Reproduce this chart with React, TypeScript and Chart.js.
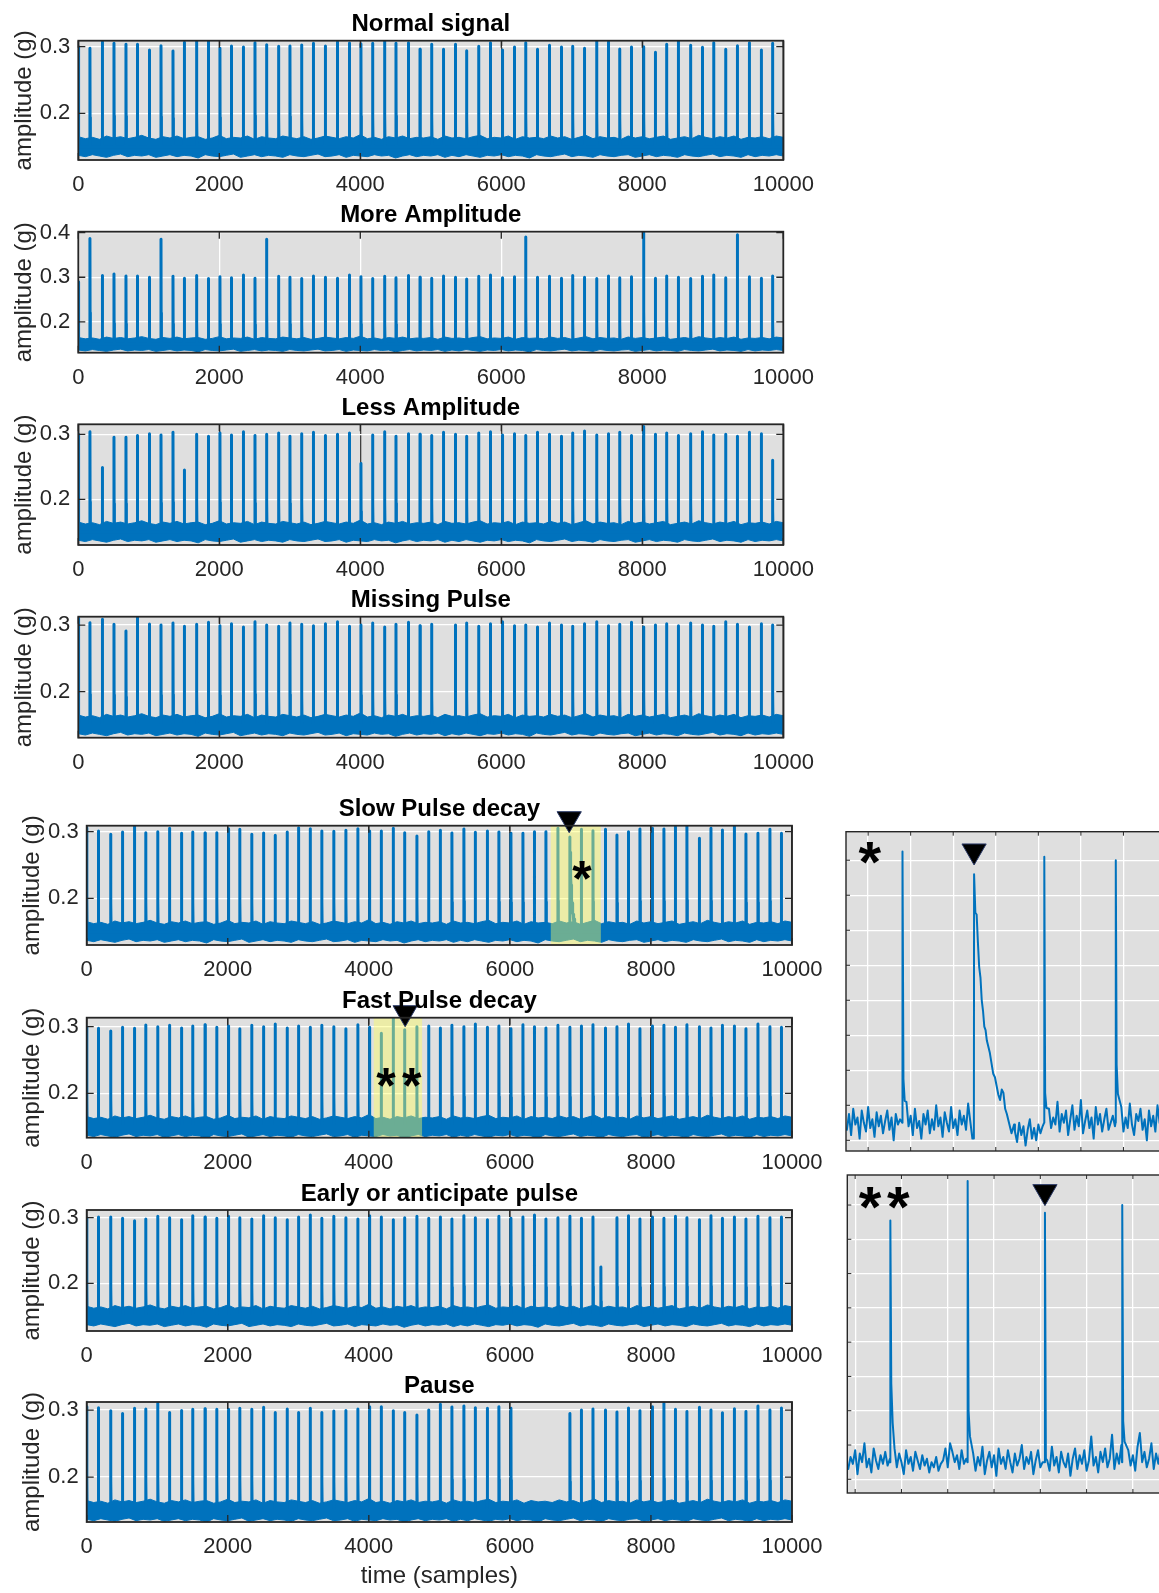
import React, { useEffect, useRef } from 'react';
import { Chart, registerables } from 'chart.js';

Chart.register(...registerables);

// ================= DATA =================
const xTickValues = [0, 2000, 4000, 6000, 8000, 10000];
const xTickLabels = ['0', '2000', '4000', '6000', '8000', '10000'];
const yTickValues = [0.2, 0.3];
const yTickLabels = ['0.2', '0.3'];
const yTickValuesMore = [0.2, 0.3, 0.4];
const yTickLabelsMore = ['0.2', '0.3', '0.4'];
const plotTitles = ['Normal signal', 'More Amplitude', 'Less Amplitude', 'Missing Pulse', 'Slow Pulse decay', 'Fast Pulse decay', 'Early or anticipate pulse', 'Pause'];
const yAxisLabel = 'amplitude (g)';
const xAxisLabel = 'time (samples)';

// pulse (beat) times in samples
const beatTimes = [0, 165, 340, 506, 676, 837, 1007, 1173, 1343, 1503, 1678, 1844, 2009, 2170, 2340, 2506, 2671, 2841, 3002, 3168, 3333, 3503, 3674, 3844, 4009, 4175, 4345, 4506, 4681, 4847, 5012, 5178, 5348, 5508, 5679, 5844, 6015, 6185, 6346, 6511, 6681, 6851, 7012, 7178, 7353, 7518, 7679, 7844, 8019, 8184, 8345, 8510, 8685, 8851, 9011, 9181, 9347, 9517, 9687, 9848];
const earlyTimes = [0, 165, 340, 506, 676, 837, 1007, 1173, 1343, 1503, 1678, 1844, 2009, 2170, 2340, 2506, 2671, 2841, 3002, 3168, 3333, 3503, 3674, 3844, 4009, 4175, 4345, 4506, 4681, 4847, 5012, 5178, 5348, 5508, 5679, 5844, 6015, 6185, 6346, 6511, 6681, 6851, 7012, 7178, 7290, 7518, 7679, 7844, 8019, 8184, 8345, 8510, 8685, 8851, 9011, 9181, 9347, 9517, 9687, 9848];

const normalPeaks = [0.300, 0.2975, 0.3075, 0.305, 0.3035, 0.3035, 0.295, 0.3015, 0.2935, 0.3065, 0.3085, 0.309, 0.2975, 0.301, 0.2995, 0.306, 0.303, 0.3005, 0.301, 0.3025, 0.305, 0.301, 0.3075, 0.3055, 0.304, 0.305, 0.3105, 0.305, 0.306, 0.296, 0.3035, 0.296, 0.3035, 0.294, 0.3005, 0.306, 0.295, 0.2995, 0.306, 0.296, 0.302, 0.2995, 0.3005, 0.2975, 0.3085, 0.3075, 0.2965, 0.2995, 0.300, 0.2915, 0.3035, 0.309, 0.302, 0.299, 0.306, 0.296, 0.3015, 0.306, 0.295, 0.305];
const moreAmpPeaks = [0.290, 0.387, 0.3037, 0.3074, 0.303, 0.303, 0.300, 0.385, 0.302, 0.298, 0.304, 0.297, 0.301, 0.299, 0.305, 0.298, 0.385, 0.302, 0.300, 0.297, 0.303, 0.300, 0.298, 0.305, 0.301, 0.297, 0.302, 0.299, 0.304, 0.300, 0.298, 0.303, 0.300, 0.296, 0.302, 0.305, 0.299, 0.301, 0.390, 0.300, 0.302, 0.298, 0.304, 0.300, 0.297, 0.303, 0.299, 0.301, 0.400, 0.298, 0.303, 0.300, 0.297, 0.302, 0.305, 0.299, 0.395, 0.301, 0.298, 0.303];
const lessAmpPeaks = [0.300, 0.304, 0.249, 0.2954, 0.2954, 0.298, 0.301, 0.299, 0.303, 0.245, 0.300, 0.297, 0.302, 0.299, 0.304, 0.298, 0.300, 0.302, 0.297, 0.301, 0.303, 0.298, 0.300, 0.302, 0.255, 0.299, 0.304, 0.297, 0.301, 0.300, 0.298, 0.303, 0.300, 0.297, 0.302, 0.304, 0.299, 0.301, 0.298, 0.303, 0.300, 0.297, 0.302, 0.305, 0.299, 0.301, 0.303, 0.298, 0.312, 0.300, 0.302, 0.298, 0.301, 0.304, 0.299, 0.300, 0.297, 0.303, 0.301, 0.260];
const missingPeaks = [0.310, 0.3035, 0.3085, 0.301, 0.291, 0.3125, 0.3015, 0.300, 0.303, 0.298, 0.301, 0.304, 0.299, 0.302, 0.297, 0.305, 0.300, 0.298, 0.303, 0.301, 0.299, 0.302, 0.305, 0.298, 0.300, 0.303, 0.297, 0.301, 0.304, 0.299, 0.301, null, 0.300, 0.303, 0.298, 0.302, 0.305, 0.299, 0.300, 0.297, 0.303, 0.300, 0.298, 0.302, 0.305, 0.299, 0.301, 0.304, 0.297, 0.300, 0.302, 0.299, 0.303, 0.300, 0.298, 0.305, 0.301, 0.297, 0.302, 0.300];
const slowPeaks = [0.306, 0.301, 0.296, 0.2995, 0.3095, 0.2985, 0.300, 0.305, 0.2975, 0.2995, 0.298, 0.2985, 0.3045, 0.3035, 0.296, 0.298, 0.2945, 0.2995, 0.306, 0.3045, 0.301, 0.3005, 0.302, 0.3045, 0.301, 0.301, 0.305, 0.2985, 0.2935, 0.300, 0.302, 0.298, 0.304, 0.299, 0.301, 0.2995, 0.2975, 0.2975, 0.300, 0.300, 0.305, null, 0.3035, 0.3015, 0.3035, 0.295, 0.300, 0.304, 0.305, 0.304, 0.3075, 0.3085, 0.290, 0.305, 0.3025, 0.3085, 0.2965, 0.2975, 0.3035, 0.2975];
const fastPeaks = [0.300, 0.2975, 0.2935, 0.299, 0.2975, 0.3025, 0.300, 0.302, 0.298, 0.301, 0.303, 0.299, 0.301, 0.297, 0.302, 0.300, 0.304, 0.298, 0.301, 0.299, 0.302, 0.300, 0.297, 0.303, 0.299, 0.290, 0.314, 0.2955, 0.300, 0.301, 0.298, 0.302, 0.300, 0.304, 0.299, 0.301, 0.297, 0.303, 0.300, 0.298, 0.302, 0.299, 0.301, 0.303, 0.298, 0.300, 0.304, 0.297, 0.301, 0.302, 0.299, 0.303, 0.300, 0.298, 0.302, 0.301, 0.297, 0.304, 0.300, 0.299];
const earlyPeaks = [0.300, 0.301, 0.301, 0.299, 0.2955, 0.298, 0.302, 0.300, 0.297, 0.303, 0.301, 0.299, 0.302, 0.300, 0.298, 0.303, 0.300, 0.297, 0.301, 0.304, 0.299, 0.302, 0.300, 0.298, 0.303, 0.301, 0.297, 0.300, 0.302, 0.299, 0.301, 0.298, 0.303, 0.300, 0.297, 0.302, 0.299, 0.301, 0.304, 0.298, 0.300, 0.302, 0.299, 0.301, 0.225, 0.300, 0.303, 0.298, 0.301, 0.299, 0.302, 0.300, 0.297, 0.303, 0.299, 0.301, 0.298, 0.302, 0.300, 0.301];
const pausePeaks = [0.305, 0.3035, 0.299, 0.295, 0.3025, 0.3015, 0.310, 0.2965, 0.2995, 0.301, 0.302, 0.301, 0.301, 0.3025, 0.301, 0.304, 0.2965, 0.3015, 0.2965, 0.3025, 0.2965, 0.2985, 0.2995, 0.3015, 0.305, 0.305, 0.299, 0.2965, 0.2925, 0.300, 0.3085, 0.3045, 0.306, 0.3035, 0.3025, 0.305, 0.3025, null, null, null, null, 0.295, 0.300, 0.3015, 0.300, 0.297, 0.303, 0.299, 0.305, 0.310, 0.301, 0.298, 0.304, 0.300, 0.296, 0.302, 0.298, 0.306, 0.300, 0.303];

// baseline level and estimated envelope of the dense noise band (one value every 100 samples)
const baselineLevel = 0.15;
const noiseEnvelopeStep = 100;
const noiseUpper = [
  0.165, 0.162, 0.164, 0.161, 0.166, 0.163, 0.165, 0.162, 0.164, 0.167,
  0.163, 0.161, 0.165, 0.163, 0.166, 0.162, 0.164, 0.165, 0.161, 0.163,
  0.167, 0.162, 0.164, 0.163, 0.166, 0.161, 0.165, 0.163, 0.162, 0.166,
  0.164, 0.162, 0.165, 0.161, 0.163, 0.166, 0.164, 0.162, 0.165, 0.163,
  0.168, 0.162, 0.164, 0.161, 0.165, 0.163, 0.166, 0.162, 0.164, 0.163,
  0.165, 0.161, 0.166, 0.163, 0.164, 0.162, 0.165, 0.167, 0.162, 0.164,
  0.163, 0.166, 0.161, 0.165, 0.163, 0.164, 0.162, 0.166, 0.163, 0.165,
  0.161, 0.164, 0.167, 0.162, 0.165, 0.163, 0.164, 0.161, 0.166, 0.163,
  0.165, 0.162, 0.164, 0.166, 0.161, 0.163, 0.165, 0.162, 0.167, 0.164,
  0.162, 0.165, 0.163, 0.166, 0.161, 0.164, 0.163, 0.165, 0.162, 0.166, 0.164,
];
const noiseLower = [
  0.137, 0.135, 0.138, 0.136, 0.134, 0.137, 0.139, 0.135, 0.137, 0.136,
  0.138, 0.134, 0.136, 0.138, 0.135, 0.137, 0.136, 0.133, 0.138, 0.136,
  0.135, 0.137, 0.139, 0.134, 0.136, 0.138, 0.135, 0.137, 0.136, 0.134,
  0.138, 0.136, 0.135, 0.137, 0.139, 0.135, 0.136, 0.138, 0.134, 0.137,
  0.136, 0.135, 0.138, 0.136, 0.137, 0.133, 0.136, 0.138, 0.135, 0.137,
  0.136, 0.138, 0.134, 0.137, 0.135, 0.138, 0.136, 0.134, 0.137, 0.136,
  0.138, 0.135, 0.137, 0.136, 0.133, 0.138, 0.136, 0.135, 0.137, 0.139,
  0.135, 0.137, 0.136, 0.134, 0.138, 0.136, 0.135, 0.137, 0.138, 0.134,
  0.136, 0.138, 0.135, 0.137, 0.136, 0.134, 0.138, 0.136, 0.135, 0.137,
  0.139, 0.135, 0.137, 0.136, 0.134, 0.138, 0.135, 0.137, 0.136, 0.138, 0.136,
];

// slow decay of the marked pulse
const slowDecayTimes = [6849, 6852, 6855, 6858, 6861, 6864, 6867, 6870, 6873, 6876, 6879, 6883, 6886, 6890, 6894, 6898, 6902, 6906, 6910, 6914, 6918, 6922, 6926, 6931, 6937, 6943];
const slowDecayValues = [0.292, 0.270, 0.269, 0.253, 0.239, 0.233, 0.220, 0.214, 0.205, 0.203, 0.197, 0.193, 0.190, 0.184, 0.178, 0.176, 0.171, 0.166, 0.163, 0.169, 0.167, 0.158, 0.155, 0.150, 0.144, 0.149];

// inset (zoom) data
const insetNoiseStep = 5;
const insetSlowRange = [6548, 7300];
const insetSlowYRange = [0.1339, 0.3163];
const insetSlowTicksX = [6600, 6700, 6800, 6900, 7000, 7100, 7200, 7300];
const insetSlowNoiseStart = 6550;
const insetSlowNoise = [
  0.146, 0.155, 0.143, 0.158, 0.149, 0.153, 0.141, 0.157, 0.150, 0.145, 0.159, 0.147, 0.152, 0.142, 0.156, 0.148, 0.154, 0.144, 0.151, 0.157, 0.146, 0.153, 0.140, 0.155, 0.149, 0.152,
  0.150, 0.156, 0.162, 0.148, 0.154, 0.143, 0.158, 0.147, 0.151, 0.141, 0.155, 0.149, 0.157, 0.144, 0.152, 0.146, 0.160, 0.148, 0.153, 0.142, 0.156, 0.150, 0.145, 0.159, 0.147, 0.152, 0.143, 0.157, 0.149, 0.154, 0.146, 0.161, 0.151,
  0.141,
  null, null, null, null, null, null, null, null, null, null, null, null, null, null, null, null, null, null, null,
  0.145, 0.139, 0.150, 0.143, 0.148, 0.137, 0.146, 0.152, 0.141, 0.147, 0.140, 0.149, 0.144, 0.148,
  0.151, 0.154, 0.158, 0.147, 0.153, 0.149, 0.162, 0.145, 0.155, 0.150, 0.157, 0.143, 0.152, 0.160, 0.146, 0.154, 0.148, 0.163, 0.144, 0.151, 0.157, 0.147, 0.153, 0.141, 0.159, 0.149, 0.155, 0.145, 0.152, 0.158, 0.146, 0.150, 0.154,
  0.148, 0.156, 0.150, 0.159, 0.145, 0.153, 0.147, 0.161, 0.149, 0.143, 0.155, 0.151, 0.158, 0.146, 0.152, 0.140, 0.157, 0.148, 0.154, 0.145, 0.160, 0.150, 0.147, 0.155, 0.149,
];
const insetSlowPulseTimes = [6681, 7014, 7182];
const insetSlowPulsePeaks = [0.305, 0.302, 0.300];
const insetSlowPulseTails = [0.175, 0.167, 0.183];

const insetFastRange = [4083, 4770];
const insetFastYRange = [0.132, 0.3175];
const insetFastTicksX = [4100, 4200, 4300, 4400, 4500, 4600, 4700];
const insetFastNoiseStart = 4085;
const insetFastNoise = [
  0.146, 0.153, 0.149, 0.157, 0.143, 0.155, 0.150, 0.161, 0.147, 0.152,
  0.144, 0.158, 0.151, 0.146, 0.154, 0.149, 0.156, 0.148, 0.152, 0.150,
  0.158, 0.147, 0.155, 0.150, 0.143, 0.157, 0.149, 0.153, 0.145, 0.156,
  0.151, 0.146, 0.154, 0.148, 0.152, 0.144, 0.150, 0.147, 0.153, 0.145,
  0.149, 0.151, 0.158, 0.147, 0.161, 0.156, 0.150, 0.154, 0.146, 0.157,
  0.149, 0.152, 0.150, 0.150, 0.155, 0.145, 0.153, 0.148, 0.159, 0.143,
  0.151, 0.156, 0.147, 0.154, 0.142, 0.158, 0.149, 0.153, 0.146, 0.157,
  0.150, 0.144, 0.155, 0.148, 0.152, 0.160, 0.146, 0.153, 0.149, 0.156,
  0.143, 0.151, 0.157, 0.147, 0.150, 0.150, 0.154, 0.145, 0.159, 0.148,
  0.153, 0.144, 0.156, 0.150, 0.147, 0.155, 0.142, 0.152, 0.158, 0.146,
  0.154, 0.149, 0.157, 0.145, 0.151, 0.165, 0.148, 0.153, 0.144, 0.156,
  0.150, 0.158, 0.147, 0.152, 0.166, 0.146, 0.155, 0.149, 0.160, 0.143,
  0.153, 0.157, 0.148, 0.154, 0.145, 0.159, 0.167, 0.150, 0.156, 0.147,
  0.152, 0.161, 0.146, 0.155, 0.149, 0.158, 0.144, 0.153,
];
const insetFastPulseTimes = [4176, 4343, 4510, 4677];
const insetFastPulsePeaks = [0.291, 0.314, 0.2955, 0.300];
const insetFastPulseTails = [0.196, 0.180, 0.152, 0.174];
const insetTicksY = [0.14, 0.16, 0.18, 0.20, 0.22, 0.24, 0.26, 0.28, 0.30];

// annotation markers (data coordinates)
const slowMarker = [{ x: 6841, y: 0.3195 }];
const fastMarker = [{ x: 4515, y: 0.321 }];
const insetSlowMarker = [{ x: 6849, y: 0.3053 }];
const insetFastMarker = [{ x: 4510, y: 0.3078 }];
const slowStars = [{ x: 7021, y: 0.24 }];
const fastStars = [{ x: 4245, y: 0.2215 }, { x: 4610, y: 0.2215 }];
const insetSlowStars = [{ x: 6604, y: 0.304 }];
const insetFastStars = [{ x: 4132, y: 0.3039 }, { x: 4193, y: 0.3039 }];
const slowHighlight = [6580, 7290];
const fastHighlight = [4070, 4755];

// ================= BUILDERS =================
type P = { x: number; y: number };

function buildMainSignal(times: number[], peaks: (number | null)[], extraT?: number[], extraV?: number[]): P[] {
  const pts: P[] = [];
  times.forEach((t, i) => {
    const p = peaks[i];
    if (p === null || p === undefined) return;
    if (t > 0) pts.push({ x: t - 1, y: baselineLevel });
    pts.push({ x: t, y: p });
    pts.push({ x: t + 2, y: baselineLevel + (p - baselineLevel) * 0.3 });
    pts.push({ x: t + 6, y: baselineLevel });
  });
  if (extraT && extraV) {
    pts.push({ x: extraT[0] - 1, y: baselineLevel });
    extraT.forEach((t, i) => pts.push({ x: t, y: extraV[i] }));
  }
  pts.push({ x: 10000, y: baselineLevel });
  return pts.sort((a, b) => a.x - b.x);
}

function envelope(vals: number[]): P[] {
  return vals.map((v, i) => ({ x: i * noiseEnvelopeStep, y: v }));
}

function buildInsetSignal(start: number, noise: (number | null)[], times: number[], peaks: number[], tails: number[], decT?: number[], decV?: number[]): P[] {
  const skip: [number, number][] = times.map((t) => [t - 0.9, t + 8]);
  if (decT) skip.push([decT[0] - 0.9, decT[decT.length - 1]]);
  const pts: P[] = [];
  noise.forEach((v, i) => {
    const x = start + i * insetNoiseStep;
    if (v === null) return;
    if (skip.some(([a, b]) => x >= a && x <= b)) return;
    pts.push({ x, y: v });
  });
  times.forEach((t, i) => {
    pts.push({ x: t - 0.5, y: baselineLevel });
    pts.push({ x: t, y: peaks[i] });
    pts.push({ x: t + 2, y: tails[i] });
    pts.push({ x: t + 5, y: (tails[i] + baselineLevel) / 2 });
  });
  if (decT && decV) {
    pts.push({ x: decT[0] - 0.5, y: 0.141 });
    decT.forEach((t, i) => pts.push({ x: t, y: decV[i] }));
  }
  return pts.sort((a, b) => a.x - b.x);
}

// ================= STYLE / LAYOUT =================
const BLUE = '#0072BD';
const AXIS = '#262626';
const BG = '#DFDFDF';
const FONT = '"Liberation Sans", Arial, Helvetica, sans-serif';
const CANVAS_W = 1200;
const DARK_GRID = 'rgba(38,38,38,0.85)';

type Spec = {
  kind: 'main' | 'inset';
  box: { l: number; r: number; t: number; b: number };
  xRange: number[];
  yRange: number[];
  xTicks: number[];
  yTicks: number[];
  yLabels?: string[];
  title?: string;
  ylabelX?: number;
  xlabel?: boolean;
  vGrid: string;
  signal: P[];
  marker?: P[];
  stars?: P[];
  starSize?: number;
  highlight?: number[];
  band?: boolean;
};

const mainL1 = { l: 78.3, r: 783.3 };
const mainL2 = { l: 86.7, r: 792 };

const specs: Spec[] = [
  { kind: 'main', box: { ...mainL1, t: 40.7, b: 160 }, xRange: [0, 10000], yRange: [0.130, 0.309], xTicks: xTickValues, yTicks: yTickValues, yLabels: yTickLabels, title: plotTitles[0], ylabelX: 30.5, vGrid: DARK_GRID, signal: buildMainSignal(beatTimes, normalPeaks), band: true },
  { kind: 'main', box: { ...mainL1, t: 231.7, b: 352.7 }, xRange: [0, 10000], yRange: [0.131, 0.402], xTicks: xTickValues, yTicks: yTickValuesMore, yLabels: yTickLabelsMore, title: plotTitles[1], ylabelX: 30.5, vGrid: '#FFFFFF', signal: buildMainSignal(beatTimes, moreAmpPeaks), band: true },
  { kind: 'main', box: { ...mainL1, t: 424.3, b: 545 }, xRange: [0, 10000], yRange: [0.1297, 0.3154], xTicks: xTickValues, yTicks: yTickValues, yLabels: yTickLabels, title: plotTitles[2], ylabelX: 30.5, vGrid: DARK_GRID, signal: buildMainSignal(beatTimes, lessAmpPeaks), band: true },
  { kind: 'main', box: { ...mainL1, t: 616.7, b: 737.7 }, xRange: [0, 10000], yRange: [0.131, 0.3125], xTicks: xTickValues, yTicks: yTickValues, yLabels: yTickLabels, title: plotTitles[3], ylabelX: 30.5, vGrid: DARK_GRID, signal: buildMainSignal(beatTimes, missingPeaks), band: true },
  { kind: 'main', box: { ...mainL2, t: 825.7, b: 945 }, xRange: [0, 10000], yRange: [0.130, 0.309], xTicks: xTickValues, yTicks: yTickValues, yLabels: yTickLabels, title: plotTitles[4], ylabelX: 39, vGrid: DARK_GRID, signal: buildMainSignal(beatTimes, slowPeaks, slowDecayTimes, slowDecayValues), band: true, marker: slowMarker, stars: slowStars, starSize: 50, highlight: slowHighlight },
  { kind: 'main', box: { ...mainL2, t: 1017.7, b: 1137.7 }, xRange: [0, 10000], yRange: [0.1333, 0.3135], xTicks: xTickValues, yTicks: yTickValues, yLabels: yTickLabels, title: plotTitles[5], ylabelX: 39, vGrid: DARK_GRID, signal: buildMainSignal(beatTimes, fastPeaks), band: true, marker: fastMarker, stars: fastStars, starSize: 50, highlight: fastHighlight },
  { kind: 'main', box: { ...mainL2, t: 1210, b: 1331 }, xRange: [0, 10000], yRange: [0.1273, 0.3117], xTicks: xTickValues, yTicks: yTickValues, yLabels: yTickLabels, title: plotTitles[6], ylabelX: 39, vGrid: DARK_GRID, signal: buildMainSignal(earlyTimes, earlyPeaks), band: true },
  { kind: 'main', box: { ...mainL2, t: 1402, b: 1522 }, xRange: [0, 10000], yRange: [0.133, 0.312], xTicks: xTickValues, yTicks: yTickValues, yLabels: yTickLabels, title: plotTitles[7], ylabelX: 39, xlabel: true, vGrid: DARK_GRID, signal: buildMainSignal(beatTimes, pausePeaks), band: true },
  { kind: 'inset', box: { l: 846, r: 1166, t: 831.7, b: 1151 }, xRange: insetSlowRange, yRange: insetSlowYRange, xTicks: insetSlowTicksX, yTicks: insetTicksY, vGrid: '#FFFFFF', signal: buildInsetSignal(insetSlowNoiseStart, insetSlowNoise, insetSlowPulseTimes, insetSlowPulsePeaks, insetSlowPulseTails, slowDecayTimes, slowDecayValues), marker: insetSlowMarker, stars: insetSlowStars, starSize: 58 },
  { kind: 'inset', box: { l: 847.3, r: 1165.3, t: 1175, b: 1493 }, xRange: insetFastRange, yRange: insetFastYRange, xTicks: insetFastTicksX, yTicks: insetTicksY, vGrid: '#FFFFFF', signal: buildInsetSignal(insetFastNoiseStart, insetFastNoise, insetFastPulseTimes, insetFastPulsePeaks, insetFastPulseTails), marker: insetFastMarker, stars: insetFastStars, starSize: 58 },
];

function canvasRect(s: Spec) {
  const top = Math.floor(s.box.t - 50);
  const height = Math.ceil(s.box.b + 70) - top;
  return { left: 0, top, width: CANVAS_W, height };
}

function makePlugin(s: Spec) {
  return {
    id: 'frame',
    beforeDraw(chart: any) {
      const { ctx, chartArea: a } = chart;
      ctx.save();
      ctx.fillStyle = BG;
      ctx.fillRect(a.left, a.top, a.right - a.left, a.bottom - a.top);
      ctx.restore();
    },
    afterDatasetDraw(chart: any, args: any) {
      if (!s.highlight || args.index !== 2) return;
      const { ctx, chartArea: a } = chart;
      const xs = chart.scales.x;
      const x0 = xs.getPixelForValue(s.highlight[0]);
      const x1 = xs.getPixelForValue(s.highlight[1]);
      ctx.save();
      ctx.fillStyle = 'rgba(255,255,90,0.42)';
      ctx.fillRect(x0, a.top, x1 - x0, a.bottom - a.top);
      ctx.restore();
    },
    afterDraw(chart: any) {
      const { ctx, chartArea: a } = chart;
      const xs = chart.scales.x;
      const ys = chart.scales.y;
      const main = s.kind === 'main';
      const tl = main ? 7 : 4;
      ctx.save();
      // inward tick marks
      ctx.strokeStyle = AXIS;
      ctx.lineWidth = main ? 1.3 : 1;
      ctx.beginPath();
      s.xTicks.forEach((v) => {
        const x = xs.getPixelForValue(v);
        ctx.moveTo(x, a.bottom); ctx.lineTo(x, a.bottom - tl);
        ctx.moveTo(x, a.top); ctx.lineTo(x, a.top + tl);
      });
      s.yTicks.forEach((v) => {
        const y = ys.getPixelForValue(v);
        ctx.moveTo(a.left, y); ctx.lineTo(a.left + tl, y);
        ctx.moveTo(a.right, y); ctx.lineTo(a.right - tl, y);
      });
      ctx.stroke();
      // box
      ctx.lineWidth = main ? 1.8 : 1.4;
      ctx.strokeRect(a.left, a.top, a.right - a.left, a.bottom - a.top);

      if (main) {
        ctx.fillStyle = AXIS;
        ctx.font = `22px ${FONT}`;
        ctx.textAlign = 'right';
        ctx.textBaseline = 'middle';
        s.yTicks.forEach((v, i) => ctx.fillText((s.yLabels || [])[i], a.left - 8, ys.getPixelForValue(v)));
        ctx.textAlign = 'center';
        ctx.textBaseline = 'alphabetic';
        s.xTicks.forEach((v, i) => ctx.fillText(xTickLabels[i], xs.getPixelForValue(v), a.bottom + 31));
        // y label
        ctx.save();
        ctx.font = `24px ${FONT}`;
        ctx.translate(s.ylabelX || 30, (a.top + a.bottom) / 2);
        ctx.rotate(-Math.PI / 2);
        ctx.textAlign = 'center';
        ctx.fillText(yAxisLabel, 0, 0);
        ctx.restore();
        if (s.xlabel) {
          ctx.font = `24px ${FONT}`;
          ctx.fillText(xAxisLabel, (a.left + a.right) / 2, a.bottom + 61);
        }
        // title
        ctx.fillStyle = '#000';
        ctx.font = `bold 24px ${FONT}`;
        ctx.fillText(s.title || '', (a.left + a.right) / 2, a.top - 9.5);
      }
      // asterisks
      if (s.stars) {
        const fs = s.starSize || 50;
        ctx.fillStyle = '#000';
        ctx.font = `bold ${fs}px ${FONT}`;
        ctx.textAlign = 'center';
        ctx.textBaseline = 'alphabetic';
        s.stars.forEach((p) => {
          ctx.fillText('*', xs.getPixelForValue(p.x), ys.getPixelForValue(p.y) + 0.57 * fs - 4);
        });
      }
      ctx.restore();
    },
  };
}

function buildConfig(s: Spec): any {
  const r = canvasRect(s);
  const datasets: any[] = [];
  // lower edge of the noise band
  datasets.push({
    type: 'line',
    data: s.band ? envelope(noiseLower) : [],
    borderColor: BLUE,
    borderWidth: 1,
    pointRadius: 0,
    fill: false,
    order: 4,
  });
  // upper edge of the noise band, filled down to the lower edge
  datasets.push({
    type: 'line',
    data: s.band ? envelope(noiseUpper) : [],
    borderColor: BLUE,
    borderWidth: 1,
    backgroundColor: BLUE,
    pointRadius: 0,
    fill: s.band ? 0 : false,
    order: 3,
  });
  datasets.push({
    type: 'line',
    data: s.signal,
    borderColor: BLUE,
    borderWidth: s.kind === 'main' ? 3 : 2,
    borderJoinStyle: 'round',
    borderCapStyle: 'round',
    pointRadius: 0,
    tension: 0,
    fill: false,
    order: 2,
  });
  datasets.push({
    type: 'line',
    data: s.marker || [],
    showLine: false,
    pointStyle: 'triangle',
    rotation: 180,
    pointRadius: 14,
    pointBackgroundColor: '#000',
    pointBorderColor: '#2B3A67',
    pointBorderWidth: 1,
    clip: false,
    order: 1,
  });
  return {
    type: 'line',
    data: { datasets },
    options: {
      animation: false,
      responsive: false,
      devicePixelRatio: 1,
      events: [],
      layout: {
        autoPadding: false,
        padding: { left: s.box.l, top: s.box.t - r.top, right: r.width - s.box.r, bottom: r.top + r.height - s.box.b },
      },
      plugins: { legend: { display: false }, tooltip: { enabled: false }, title: { display: false } },
      scales: {
        x: {
          type: 'linear', min: s.xRange[0], max: s.xRange[1],
          grid: { color: s.vGrid, lineWidth: 1.3, drawTicks: false },
          border: { display: false },
          ticks: { display: false },
          afterBuildTicks: (sc: any) => { sc.ticks = s.xTicks.map((v) => ({ value: v })); },
          afterFit: (sc: any) => { sc.height = 0; },
        },
        y: {
          type: 'linear', min: s.yRange[0], max: s.yRange[1],
          grid: { color: '#FFFFFF', lineWidth: 1.3, drawTicks: false },
          border: { display: false },
          ticks: { display: false },
          afterBuildTicks: (sc: any) => { sc.ticks = s.yTicks.map((v) => ({ value: v })); },
          afterFit: (sc: any) => { sc.width = 0; },
        },
      },
    },
    plugins: [makePlugin(s)],
  };
}

function ChartCanvas({ spec }: { spec: Spec }) {
  const ref = useRef<HTMLCanvasElement>(null);
  useEffect(() => {
    const chart = new Chart(ref.current as HTMLCanvasElement, buildConfig(spec));
    return () => chart.destroy();
  }, [spec]);
  const r = canvasRect(spec);
  return (
    <canvas
      ref={ref}
      width={r.width}
      height={r.height}
      style={{ position: 'absolute', left: r.left, top: r.top, width: r.width, height: r.height }}
    />
  );
}

export default function App() {
  return (
    <div style={{ position: 'absolute', left: 0, top: 0, width: 1159, height: 1593, overflow: 'hidden', background: '#FFFFFF' }}>
      {specs.map((s, i) => (
        <ChartCanvas key={i} spec={s} />
      ))}
    </div>
  );
}
